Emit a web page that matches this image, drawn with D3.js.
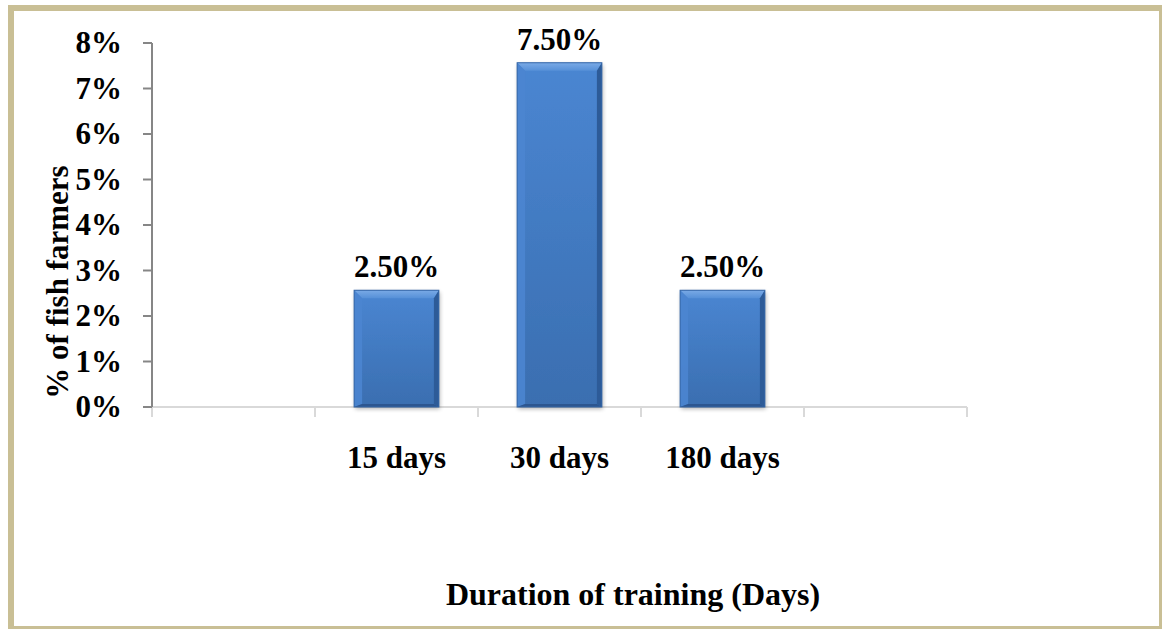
<!DOCTYPE html>
<html>
<head>
<meta charset="utf-8">
<script src="https://cdn.jsdelivr.net/npm/d3@7"></script>
<style>
  html, body { margin: 0; padding: 0; background: #fff; }
  svg { display: block; }
  text { font-family: "Liberation Serif", "Times New Roman", serif; font-weight: bold; fill: #000; }
</style>
</head>
<body>
<svg id="chart" width="1163" height="629"></svg>
<script>
// ─── Data ────────────────────────────────────────────
const categories = ['', '15 days', '30 days', '180 days', ''];
const values = [null, 0.025, 0.075, 0.025, null];
const valueLabels = ['', '2.50%', '7.50%', '2.50%', ''];
const yTicks = [0, 0.01, 0.02, 0.03, 0.04, 0.05, 0.06, 0.07, 0.08];

const svg = d3.select('#chart');

// Frame (tan border, heavier top/left edge)
svg.append('rect').attr('x', 8).attr('y', 5).attr('width', 1154).attr('height', 624).attr('fill', '#c9bf95');
svg.append('rect').attr('x', 14).attr('y', 11).attr('width', 1145).attr('height', 615).attr('fill', '#fff');

const plot = { left: 152, right: 967, top: 43, bottom: 407 };

const x = d3.scaleBand()
  .domain(d3.range(categories.length))
  .range([plot.left, plot.right])
  .paddingInner(0).paddingOuter(0);

const y = d3.scaleLinear()
  .domain([0, 0.08])
  .range([plot.bottom, plot.top]);

// Bar face gradient + soft shadow
const defs = svg.append('defs');
const grad = defs.append('linearGradient').attr('id', 'barFace')
  .attr('x1', 0).attr('y1', 0).attr('x2', 0).attr('y2', 1);
grad.append('stop').attr('offset', '0%').attr('stop-color', '#4a86d2');
grad.append('stop').attr('offset', '100%').attr('stop-color', '#3a6eb0');

const topGrad = defs.append('linearGradient').attr('id', 'barTop')
  .attr('x1', 0).attr('y1', 0).attr('x2', 0).attr('y2', 1);
topGrad.append('stop').attr('offset', '0%').attr('stop-color', '#7aaae6');
topGrad.append('stop').attr('offset', '100%').attr('stop-color', '#5690d8');

const shadow = defs.append('filter').attr('id', 'shadow')
  .attr('x', '-20%').attr('y', '-20%').attr('width', '140%').attr('height', '140%');
shadow.append('feGaussianBlur').attr('in', 'SourceAlpha').attr('stdDeviation', 2);
shadow.append('feOffset').attr('dx', 1).attr('dy', 2).attr('result', 'b');
shadow.append('feComponentTransfer').append('feFuncA').attr('type', 'linear').attr('slope', 0.3);
const merge = shadow.append('feMerge');
merge.append('feMergeNode');
merge.append('feMergeNode').attr('in', 'SourceGraphic');

// X axis
const xAxis = svg.append('g').attr('transform', `translate(0,${plot.bottom})`);
xAxis.append('line')
  .attr('x1', plot.left).attr('x2', plot.right)
  .attr('y1', 0).attr('y2', 0)
  .attr('stroke', '#d9d9d9').attr('stroke-width', 2);
const bounds = d3.range(categories.length + 1).map(i => plot.left + i * x.step());
xAxis.selectAll('.xtick').data(bounds).enter().append('line')
  .attr('x1', d => d).attr('x2', d => d)
  .attr('y1', 0).attr('y2', 10)
  .attr('stroke', '#d9d9d9').attr('stroke-width', 2);
xAxis.selectAll('.xlab').data(categories).enter().append('text')
  .attr('x', (d, i) => x(i) + x.bandwidth() / 2)
  .attr('y', 61)
  .attr('text-anchor', 'middle')
  .attr('font-size', 31)
  .text(d => d);

// Y axis
const yAxis = svg.append('g');
yAxis.append('line')
  .attr('x1', plot.left).attr('x2', plot.left)
  .attr('y1', plot.top).attr('y2', plot.bottom)
  .attr('stroke', '#868686').attr('stroke-width', 2);
yAxis.selectAll('.ytick').data(yTicks).enter().append('line')
  .attr('x1', plot.left - 9).attr('x2', plot.left)
  .attr('y1', d => y(d)).attr('y2', d => y(d))
  .attr('stroke', '#868686').attr('stroke-width', 2);
yAxis.selectAll('.ylab').data(yTicks).enter().append('text')
  .attr('x', 122)
  .attr('y', d => y(d) + 10)
  .attr('text-anchor', 'end')
  .attr('font-size', 31)
  .text(d3.format('.0%'));

// Bars with bevel
const barW = x.bandwidth() * 0.52;
const bev = 8, bevR = 5, bevB = 3;
const barData = categories.map((c, i) => ({ i, v: values[i], label: valueLabels[i] })).filter(d => d.v != null);

const bars = svg.selectAll('.bar').data(barData).enter().append('g').attr('class', 'bar');
bars.each(function(d) {
  const g = d3.select(this);
  const x0 = x(d.i) + (x.bandwidth() - barW) / 2;
  const x1 = x0 + barW;
  const y0 = y(d.v) - 3;
  const y1 = y(0);
  g.append('rect')
    .attr('x', x0).attr('y', y0).attr('width', barW).attr('height', y1 - y0)
    .attr('fill', 'url(#barFace)').attr('filter', 'url(#shadow)');
  // top bevel
  g.append('polygon')
    .attr('points', [[x0, y0], [x1, y0], [x1 - bevR, y0 + bev], [x0 + bev, y0 + bev]].join(' '))
    .attr('fill', 'url(#barTop)');
  // left bevel
  g.append('polygon')
    .attr('points', [[x0, y0], [x0 + bev, y0 + bev], [x0 + bev, y1 - bevB], [x0, y1]].join(' '))
    .attr('fill', '#4b85d0').attr('opacity', 0.9);
  // right bevel
  g.append('polygon')
    .attr('points', [[x1, y0], [x1 - bevR, y0 + bev], [x1 - bevR, y1 - bevB], [x1, y1]].join(' '))
    .attr('fill', '#2d5b98');
  // bottom bevel
  g.append('polygon')
    .attr('points', [[x0, y1], [x0 + bev, y1 - bevB], [x1 - bevR, y1 - bevB], [x1, y1]].join(' '))
    .attr('fill', '#2c5690');
  g.append('rect')
    .attr('x', x0).attr('y', y0).attr('width', barW).attr('height', y1 - y0)
    .attr('fill', 'none').attr('stroke', '#3566a6').attr('stroke-width', 1);
  // value label
  g.append('text')
    .attr('x', (x0 + x1) / 2)
    .attr('y', y0 - 13)
    .attr('text-anchor', 'middle')
    .attr('font-size', 31)
    .text(d.label);
});

// Axis titles
svg.append('text')
  .attr('x', 633).attr('y', 605)
  .attr('text-anchor', 'middle')
  .attr('font-size', 32)
  .text('Duration of training (Days)');

svg.append('text')
  .attr('transform', 'translate(68,282) rotate(-90)')
  .attr('text-anchor', 'middle')
  .attr('font-size', 31)
  .text('% of fish farmers');
</script>
</body>
</html>
